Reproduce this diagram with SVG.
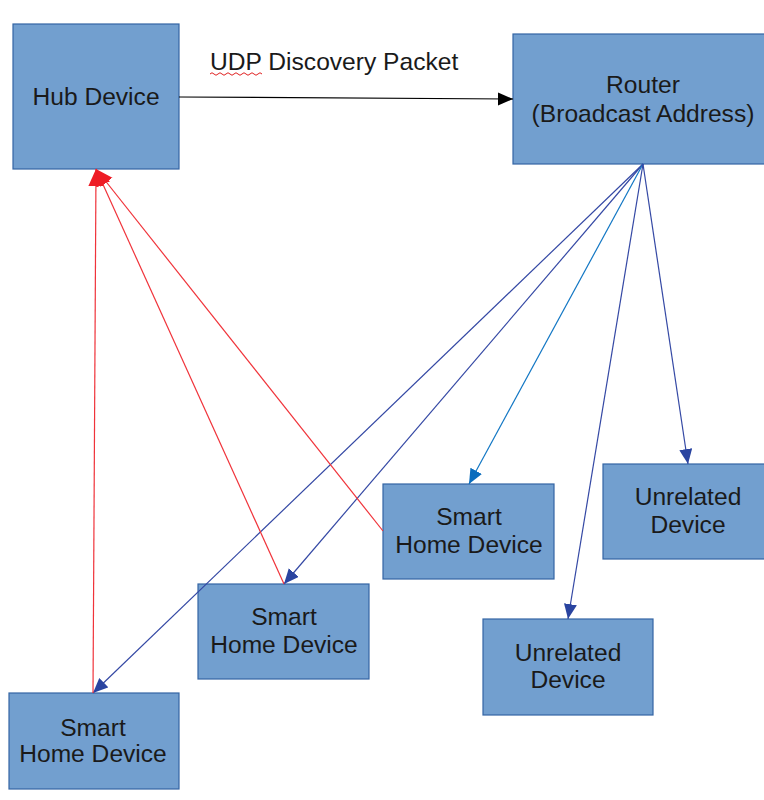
<svg xmlns="http://www.w3.org/2000/svg" width="764" height="800" viewBox="0 0 764 800">
<style>
.box{fill:#729fcf;stroke:#3465a4;stroke-width:1.2}
.t{font-family:"Liberation Sans",Arial,sans-serif;font-size:24.6px;fill:#1a1a1a;text-anchor:middle}
.blue{stroke:#3448a4;stroke-width:1.2;fill:none}
.lblue{stroke:#1277c4;stroke-width:1.2;fill:none}
.red{stroke:#f0333a;stroke-width:1.2;fill:none}
</style>
<defs>
<marker id="ab" markerUnits="userSpaceOnUse" markerWidth="16" markerHeight="14" refX="15" refY="6.5" orient="auto"><path d="M0,0 L15,6.5 L0,13 Z" fill="#2a44a0"/></marker>
<marker id="al" markerUnits="userSpaceOnUse" markerWidth="16" markerHeight="14" refX="15" refY="6.5" orient="auto"><path d="M0,0 L15,6.5 L0,13 Z" fill="#0a6cbd"/></marker>
<marker id="ar" markerUnits="userSpaceOnUse" markerWidth="18" markerHeight="16" refX="17" refY="7.5" orient="auto"><path d="M0,0 L17,7.5 L0,15 Z" fill="#ee1c25"/></marker>
<marker id="ak" markerUnits="userSpaceOnUse" markerWidth="16" markerHeight="14" refX="15" refY="6.5" orient="auto"><path d="M0,0 L15,6.5 L0,13 Z" fill="#000"/></marker>
</defs>
<rect width="764" height="800" fill="#fff"/>
<g id="hub"><rect class="box" x="13" y="24" width="166" height="145"/><text class="t" x="96" y="105">Hub Device</text></g>
<g id="router"><rect class="box" x="513" y="34" width="253" height="130"/><text class="t" x="643" y="93">Router</text><text class="t" x="643" y="122">(Broadcast Address)</text></g>
<g id="shd1"><rect class="box" x="383" y="484" width="171" height="95"/><text class="t" x="469" y="525">Smart</text><text class="t" x="469" y="553">Home Device</text></g>
<g id="shd2"><rect class="box" x="198" y="584" width="171" height="95"/><text class="t" x="284" y="625">Smart</text><text class="t" x="284" y="653">Home Device</text></g>
<g id="shd3"><rect class="box" x="9" y="693" width="170" height="96"/><text class="t" x="93" y="736">Smart</text><text class="t" x="93" y="762">Home Device</text></g>
<g id="unrel1"><rect class="box" x="603" y="464" width="163" height="95"/><text class="t" x="688" y="505">Unrelated</text><text class="t" x="688" y="533">Device</text></g>
<g id="unrel2"><rect class="box" x="483" y="619" width="170" height="96"/><text class="t" x="568" y="661">Unrelated</text><text class="t" x="568" y="688">Device</text></g>
<g id="label"><text class="t" x="210" y="70" style="text-anchor:start">UDP Discovery Packet</text>
<path d="M210,74 q2,-2.5 4,0 t4,0 t4,0 t4,0 t4,0 t4,0 t4,0 t4,0 t4,0 t4,0 t4,0 t4,0 t4,0" fill="none" stroke="#e02020" stroke-width="1"/></g>
<g id="connectors">
<line x1="179" y1="97" x2="513" y2="99" stroke="#000" stroke-width="1.2" marker-end="url(#ak)"/>
<line class="blue" x1="643" y1="164" x2="93" y2="693" marker-end="url(#ab)"/>
<line class="blue" x1="643" y1="164" x2="284" y2="584" marker-end="url(#ab)"/>
<line class="lblue" x1="643" y1="164" x2="469" y2="484" marker-end="url(#al)"/>
<line class="blue" x1="643" y1="164" x2="568" y2="619" marker-end="url(#ab)"/>
<line class="blue" x1="643" y1="164" x2="688" y2="464" marker-end="url(#ab)"/>
<line class="red" x1="93" y1="693" x2="96" y2="169" marker-end="url(#ar)"/>
<line class="red" x1="284" y1="584" x2="96" y2="169" marker-end="url(#ar)"/>
<line class="red" x1="383" y1="531" x2="96" y2="169" marker-end="url(#ar)"/>
</g>
</svg>
